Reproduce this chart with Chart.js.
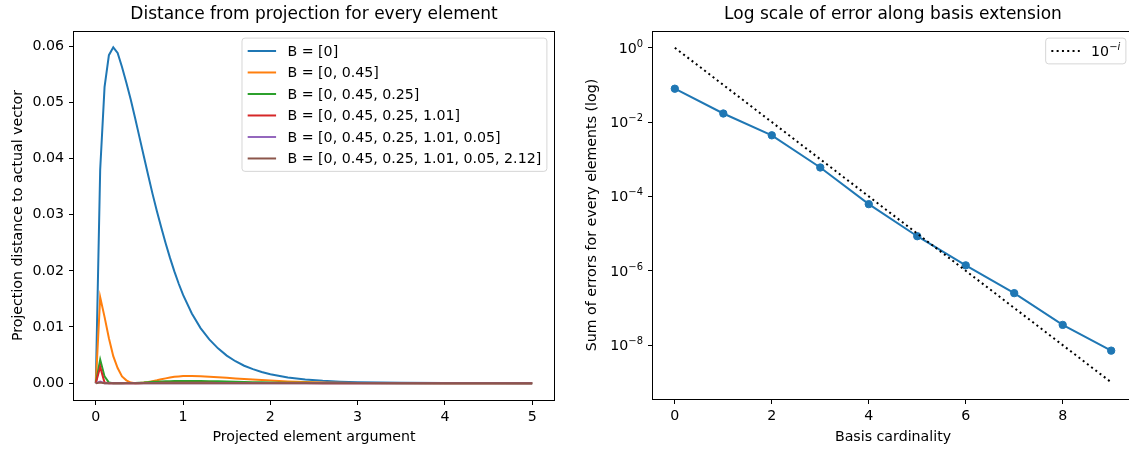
<!DOCTYPE html>
<html>
<head>
<meta charset="utf-8">
<script src="https://cdn.jsdelivr.net/npm/chart.js@4.4.1/dist/chart.umd.min.js"></script>
<style>
html,body{margin:0;padding:0;background:#fff;overflow:hidden;width:1129px;height:450px;}
.box{position:absolute;top:0;height:450px;}
#left{left:0;width:565px;}
#right{left:565px;width:600px;}
</style>
</head>
<body>
<div class="box" id="left"><canvas id="c1"></canvas></div>
<div class="box" id="right"><canvas id="c2"></canvas></div>
<script>
const FONT = 'DejaVu Sans';
const FS = 14.2;
const TITLE_FS = 17;

// left panel: distance per projected element argument (one shared x grid)
const argX = [0,0.05,0.1,0.15,0.2,0.25,0.3,0.35,0.4,0.45,0.5,0.55,0.6,0.65,0.7,0.75,0.8,0.85,0.9,0.95,1.0,
  1.1,1.2,1.3,1.4,1.5,1.6,1.7,1.8,1.9,2.0, 2.2,2.4,2.6,2.8,3.0, 3.5,4.0,4.5,5.0];
const distB1 = [0,0.0380,0.0527,0.0584,0.0598,0.0588,0.0563,0.0535,0.0505,0.0472,0.0438,0.0404,0.0370,0.0337,0.0306,0.0277,0.0249,0.0223,0.0199,0.0177,0.0157,
  0.0124,0.0098,0.0078,0.0062,0.0049,0.0039,0.0031,0.0025,0.0020,0.0016, 0.0010,0.00065,0.00042,0.00027,0.00017, 0.00005,0.000015,0.000005,0.000002];
const distB2 = [0,0.0153,0.0118,0.0080,0.0048,0.0027,0.0012,0.0005,0.0001,0,0.00003,0.0001,0.0002,0.00035,0.0005,0.00068,0.00085,0.0010,0.00112,0.0012,0.00126,
  0.00128,0.00124,0.00116,0.00106,0.00095,0.00084,0.00073,0.00063,0.00054,0.00045, 0.0003,0.0002,0.00012,0.00007,0.00004, 0.00001,0,0,0];
const distB3 = [0,0.0042,0.0012,0.0001,0,0,0,0.00001,0.00002,0.00004,0.00008,0.00012,0.00018,0.00023,0.00027,0.00031,0.00034,0.00036,0.00038,0.00039,0.0004,
  0.0004,0.00038,0.00035,0.00032,0.00028,0.00025,0.00021,0.00018,0.00015,0.00012, 0.00008,0.00005,0.00003,0.00002,0.00001, 0,0,0,0];
const distB4 = [0,0.0029,0.0001,0,0,0,0,0,0,0,0,0.00001,0.00002,0.00003,0.00004,0.00005,0.00005,0.00006,0.00006,0.00006,0.00006,
  0.00006,0.00005,0.00005,0.00004,0.00004,0.00003,0.00003,0.00002,0.00002,0.00002, 0.00001,0.00001,0,0,0, 0,0,0,0];
const distB5 = [0,0.0003,0,0,0,0,0,0,0,0,0,0,0,0,0,0,0,0,0,0,0,
  0,0,0,0,0,0,0,0,0,0, 0,0,0,0,0, 0,0,0,0];
const distB6 = [0,0.0001,0,0,0,0,0,0,0,0,0,0,0,0,0,0,0,0,0,0,0,
  0,0,0,0,0,0,0,0,0,0, 0,0,0,0,0, 0,0,0,0];
const basisLabels = ['B = [0]','B = [0, 0.45]','B = [0, 0.45, 0.25]','B = [0, 0.45, 0.25, 1.01]',
  'B = [0, 0.45, 0.25, 1.01, 0.05]','B = [0, 0.45, 0.25, 1.01, 0.05, 2.12]'];
const basisColors = ['#1f77b4','#ff7f0e','#2ca02c','#d62728','#9467bd','#8c564b'];
const leftXTicks = [0,1,2,3,4,5];
const leftYTicks = [0,0.01,0.02,0.03,0.04,0.05,0.06];

// right panel: error sum vs basis cardinality
const cardinality = [0,1,2,3,4,5,6,7,8,9];
const errorSum = [7.9e-2,1.7e-2,4.4e-3,6.0e-4,6.2e-5,8.5e-6,1.4e-6,2.5e-7,3.5e-8,7.1e-9];
const refPower = [1,1e-1,1e-2,1e-3,1e-4,1e-5,1e-6,1e-7,1e-8,1e-9];
const rightXTicks = [0,2,4,6,8];
const rightYTicks = [1,1e-2,1e-4,1e-6,1e-8];
const rightYTickExps = ['0','−2','−4','−6','−8'];

// "10^x" drawn like matplotlib mathtext: base, then a smaller raised exponent
function powWidth(ctx, base, exp){
  ctx.font = `${FS}px "${FONT}"`;
  let w = ctx.measureText(base).width;
  for (const ch of exp){
    ctx.font = `${/[a-z]/.test(ch)?'italic ':''}${FS*0.7}px "${FONT}"`;
    w += ctx.measureText(ch).width;
  }
  return w;
}
function drawPow(ctx, base, exp, x, y){
  ctx.textAlign = 'left'; ctx.textBaseline = 'alphabetic';
  ctx.font = `${FS}px "${FONT}"`;
  ctx.fillText(base, x, y);
  x += ctx.measureText(base).width;
  for (const ch of exp){
    ctx.font = `${/[a-z]/.test(ch)?'italic ':''}${FS*0.7}px "${FONT}"`;
    ctx.fillText(ch, x, y - 6);
    x += ctx.measureText(ch).width;
  }
}

// frame, title, in-axes legend and math tick labels, matplotlib style
const mplFrame = {
  id: 'mplFrame',
  afterDatasetsDraw(chart, args, opts){
    const {ctx, chartArea: a} = chart;
    ctx.save();
    ctx.strokeStyle = '#000'; ctx.lineWidth = 1;
    ctx.strokeRect(a.left - 0.5, a.top + 0.5, a.right - a.left + 1, a.bottom - a.top);
    ctx.fillStyle = '#000';
    ctx.font = `${TITLE_FS}px "${FONT}"`;
    ctx.textAlign = 'center'; ctx.textBaseline = 'alphabetic';
    ctx.fillText(opts.title, (a.left + a.right)/2, a.top - 12.5);

    if (opts.powTicks){
      const s = chart.scales.y;
      opts.powTicks.values.forEach((v,i)=>{
        const exp = opts.powTicks.exps[i];
        const py = s.getPixelForValue(v);
        drawPow(ctx, '10', exp, a.left - 10 - powWidth(ctx, '10', exp), py + 5);
      });
    }

    const items = chart.data.datasets.filter(d=>d.label);
    const isPow = l=>l.includes('^');
    const labW = l=>{
      if (isPow(l)){ const [b,e] = l.split('^'); return powWidth(ctx, b, e); }
      ctx.font = `${FS}px "${FONT}"`; return ctx.measureText(l).width;
    };
    const pad = 0.4*FS, rowH = 14.4, gap = 0.5*FS, hl = 2*FS, htp = 0.8*FS;
    const tw = Math.max(...items.map(d=>labW(d.label)));
    const w = pad*2 + hl + htp + tw, h = pad*2 + items.length*rowH + (items.length-1)*gap;
    const x0 = a.right - 0.5*FS - w, y0 = a.top + 0.5*FS;
    ctx.beginPath();
    ctx.roundRect(x0, y0, w, h, 3);
    ctx.fillStyle = 'rgba(255,255,255,0.8)'; ctx.fill();
    ctx.strokeStyle = 'rgba(204,204,204,0.8)'; ctx.stroke();
    items.forEach((d,i)=>{
      const cy = y0 + pad + rowH/2 + i*(rowH + gap);
      ctx.beginPath();
      ctx.setLineDash(d.borderDash || []);
      ctx.strokeStyle = d.borderColor; ctx.lineWidth = d.borderWidth;
      ctx.moveTo(x0 + pad, cy); ctx.lineTo(x0 + pad + hl, cy); ctx.stroke();
      ctx.setLineDash([]);
      ctx.fillStyle = '#000';
      const tx = x0 + pad + hl + htp;
      if (isPow(d.label)){
        const [b,e] = d.label.split('^');
        drawPow(ctx, b, e, tx, cy + 5);
      } else {
        ctx.font = `${FS}px "${FONT}"`;
        ctx.textAlign = 'left'; ctx.textBaseline = 'middle';
        ctx.fillText(d.label, tx, cy + 1);
      }
    });
    ctx.restore();
  }
};

const tickFont = {family: FONT, size: FS};
function axisStyle(extra){
  return Object.assign({
    grid: {drawOnChartArea: false, drawTicks: true, tickLength: 5, color: '#000', lineWidth: 1},
    border: {display: false},
  }, extra);
}

const basisSeries = [distB1, distB2, distB3, distB4, distB5, distB6];
new Chart(document.getElementById('c1'), {
  type: 'line',
  data: {
    datasets: basisSeries.map((ys,i)=>({
      label: basisLabels[i],
      data: argX.map((x,k)=>({x, y: ys[k]})),
      borderColor: basisColors[i], backgroundColor: basisColors[i],
      borderWidth: 2, pointRadius: 0, tension: 0, order: -i
    }))
  },
  options: {
    responsive: true, maintainAspectRatio: false, animation: false,
    layout: {padding: {left: 0, top: 31, right: 11, bottom: 0}},
    plugins: {legend: {display: false}, tooltip: {enabled: false},
      mplFrame: {title: 'Distance from projection for every element'}},
    scales: {
      x: axisStyle({type: 'linear', min: -0.25, max: 5.25,
        afterBuildTicks: s=>{ s.ticks = leftXTicks.map(v=>({value: v})); },
        afterFit: s=>{ s.height = 50; },
        ticks: {font: tickFont, color: '#000', padding: 3.5, maxRotation: 0},
        title: {display: true, text: 'Projected element argument', font: tickFont, color: '#000', padding: {top: 0, bottom: 4.5}}}),
      y: axisStyle({type: 'linear', min: -0.003, max: 0.0627,
        afterBuildTicks: s=>{ s.ticks = leftYTicks.map(v=>({value: v})); },
        afterFit: s=>{ s.width = 74; },
        ticks: {font: tickFont, color: '#000', padding: 5, callback: v=>Number(v).toFixed(2)},
        title: {display: true, text: 'Projection distance to actual vector', font: tickFont, color: '#000', padding: {top: 9.5, bottom: 0}}})
    }
  },
  plugins: [mplFrame]
});

new Chart(document.getElementById('c2'), {
  type: 'line',
  data: {
    datasets: [
      {label: '', data: cardinality.map((x,k)=>({x, y: errorSum[k]})),
        borderColor: '#1f77b4', backgroundColor: '#1f77b4', borderWidth: 2,
        pointRadius: 3.7, pointBorderWidth: 1, pointBackgroundColor: '#1f77b4', tension: 0, order: 0},
      {label: '10^−i', data: cardinality.map((x,k)=>({x, y: refPower[k]})),
        borderColor: '#000', backgroundColor: '#000', borderWidth: 2, borderDash: [2, 3.3],
        pointRadius: 0, tension: 0, order: -1}
    ]
  },
  options: {
    responsive: true, maintainAspectRatio: false, animation: false,
    layout: {padding: {left: 0, top: 31, right: 32, bottom: 0}},
    plugins: {legend: {display: false}, tooltip: {enabled: false},
      mplFrame: {title: 'Log scale of error along basis extension',
        powTicks: {values: rightYTicks, exps: rightYTickExps}}},
    scales: {
      x: axisStyle({type: 'linear', min: -0.45, max: 9.45,
        afterBuildTicks: s=>{ s.ticks = rightXTicks.map(v=>({value: v})); },
        afterFit: s=>{ s.height = 51; },
        ticks: {font: tickFont, color: '#000', padding: 3.5, maxRotation: 0},
        title: {display: true, text: 'Basis cardinality', font: tickFont, color: '#000', padding: {top: 0, bottom: 4.5}}}),
      y: axisStyle({type: 'logarithmic', min: Math.pow(10, -9.45), max: Math.pow(10, 0.45),
        afterBuildTicks: s=>{ s.ticks = rightYTicks.map(v=>({value: v})); },
        afterFit: s=>{ s.width = 88; },
        ticks: {font: tickFont, color: '#000', padding: 5, callback: ()=>''},
        title: {display: true, text: 'Sum of errors for every elements (log)', font: tickFont, color: '#000', padding: {top: 18.5, bottom: 0}}})
    }
  },
  plugins: [mplFrame]
});
</script>
</body>
</html>
